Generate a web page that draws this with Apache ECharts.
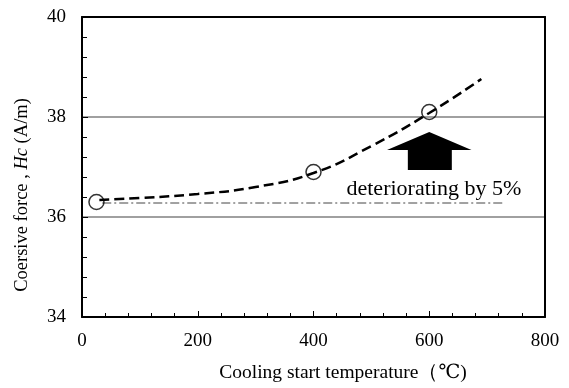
<!DOCTYPE html>
<html><head><meta charset="utf-8">
<script src="https://cdn.jsdelivr.net/npm/echarts@6/dist/echarts.min.js"></script>
<style>html,body{margin:0;padding:0;background:#fff}#c{width:569px;height:388px}</style>
</head><body><div id="c"></div>
<script>
// measured points
var pointX = [25, 400, 600];
var pointY = [36.3, 36.9, 38.1];
// dashed trend curve
var curveX = [30, 100, 200, 300, 400, 500, 600, 690];
var curveY = [36.34, 36.38, 36.46, 36.6, 36.88, 37.42, 38.08, 38.76];
// dash-dot 5% reference line
var refX = [35, 730];
var refY = [36.28, 36.28];
// arrow outline (data coords)
var arrowX = [527, 600, 673, 639, 639, 563, 563];
var arrowY = [37.34, 37.7, 37.34, 37.34, 36.94, 36.94, 37.34];
var noteText = 'deteriorating by 5%';
var notePos = [457, 36.56];
var xTicks = [0, 200, 400, 600, 800];
var yTicks = [34, 36, 38, 40];

var serif = '"Liberation Serif","DejaVu Serif",serif';
function zip(a, b) { return a.map(function (v, i) { return [v, b[i]]; }); }

var chart = echarts.init(document.getElementById('c'));
chart.setOption({
  animation: false,
  grid: { left: 82, right: 24, top: 17, bottom: 71 },
  xAxis: [{
    type: 'value', min: xTicks[0], max: xTicks[xTicks.length - 1], interval: 200,
    axisLine: { lineStyle: { color: '#000', width: 2 } },
    axisTick: { inside: true, length: 6, lineStyle: { color: '#000', width: 1 } },
    minorTick: { show: true, splitNumber: 5, length: 4, lineStyle: { color: '#000', width: 1 } },
    axisLabel: { fontFamily: serif, fontSize: 19, color: '#000', margin: 15 },
    splitLine: { show: false }
  }, {
    type: 'value', position: 'top', min: 0, max: 800,
    axisLine: { show: true, onZero: false, lineStyle: { color: '#000', width: 2 } },
    axisTick: { show: false }, axisLabel: { show: false }, splitLine: { show: false }
  }],
  yAxis: [{
    type: 'value', min: yTicks[0], max: yTicks[yTicks.length - 1], interval: 2,
    axisLine: { show: true, lineStyle: { color: '#000', width: 2 } },
    axisTick: { show: true, inside: true, length: 6, lineStyle: { color: '#000', width: 1 } },
    minorTick: { show: true, splitNumber: 5, length: 5, lineStyle: { color: '#000', width: 1 } },
    axisLabel: { fontFamily: serif, fontSize: 19, color: '#000', margin: 16 },
    splitLine: { show: true, lineStyle: { color: '#808080', width: 1.5 } }
  }, {
    type: 'value', position: 'right', min: 34, max: 40,
    axisLine: { show: true, onZero: false, lineStyle: { color: '#000', width: 2 } },
    axisTick: { show: false }, axisLabel: { show: false }, splitLine: { show: false }
  }],
  graphic: [{
    type: 'text', x: 22, y: 195, rotation: Math.PI / 2,
    style: {
      text: '{n|Coersive force , }{i|Hc}{n| (A/m)}',
      align: 'center', verticalAlign: 'middle',
      rich: {
        n: { fontFamily: serif, fontSize: 18.5, fill: '#000' },
        i: { fontFamily: serif, fontSize: 18.5, fontStyle: 'italic', fill: '#000' }
      }
    }
  }, {
    type: 'text', x: 343, y: 373,
    style: {
      text: 'Cooling start temperature（℃)',
      font: '19.5px ' + serif, fill: '#000', align: 'center', verticalAlign: 'middle'
    }
  }],
  series: [{
    type: 'line', data: zip(refX, refY), symbol: 'none', silent: true,
    lineStyle: { color: '#444', width: 1, type: [9, 3, 2, 3] }, z: 2
  }, {
    type: 'line', data: zip(curveX, curveY), symbol: 'none', smooth: true,
    lineStyle: { color: '#000', width: 2.5, type: [10, 5] }, z: 3
  }, {
    type: 'scatter', data: zip(pointX, pointY), symbol: 'circle', symbolSize: 15,
    itemStyle: { color: 'rgba(255,255,255,0)', borderColor: '#000', borderWidth: 1.5 }, z: 4
  }, {
    type: 'custom', data: [0], z: 5,
    renderItem: function (params, api) {
      var pts = arrowX.map(function (x, i) { return api.coord([x, arrowY[i]]); });
      return { type: 'polygon', shape: { points: pts }, style: { fill: '#000' } };
    }
  }, {
    type: 'custom', data: [0], z: 5,
    renderItem: function (params, api) {
      var p = api.coord(notePos);
      return { type: 'text', x: p[0], y: p[1],
        style: { text: noteText, font: '22px ' + serif, fill: '#000', align: 'left', verticalAlign: 'middle' } };
    }
  }]
});
</script></body></html>
